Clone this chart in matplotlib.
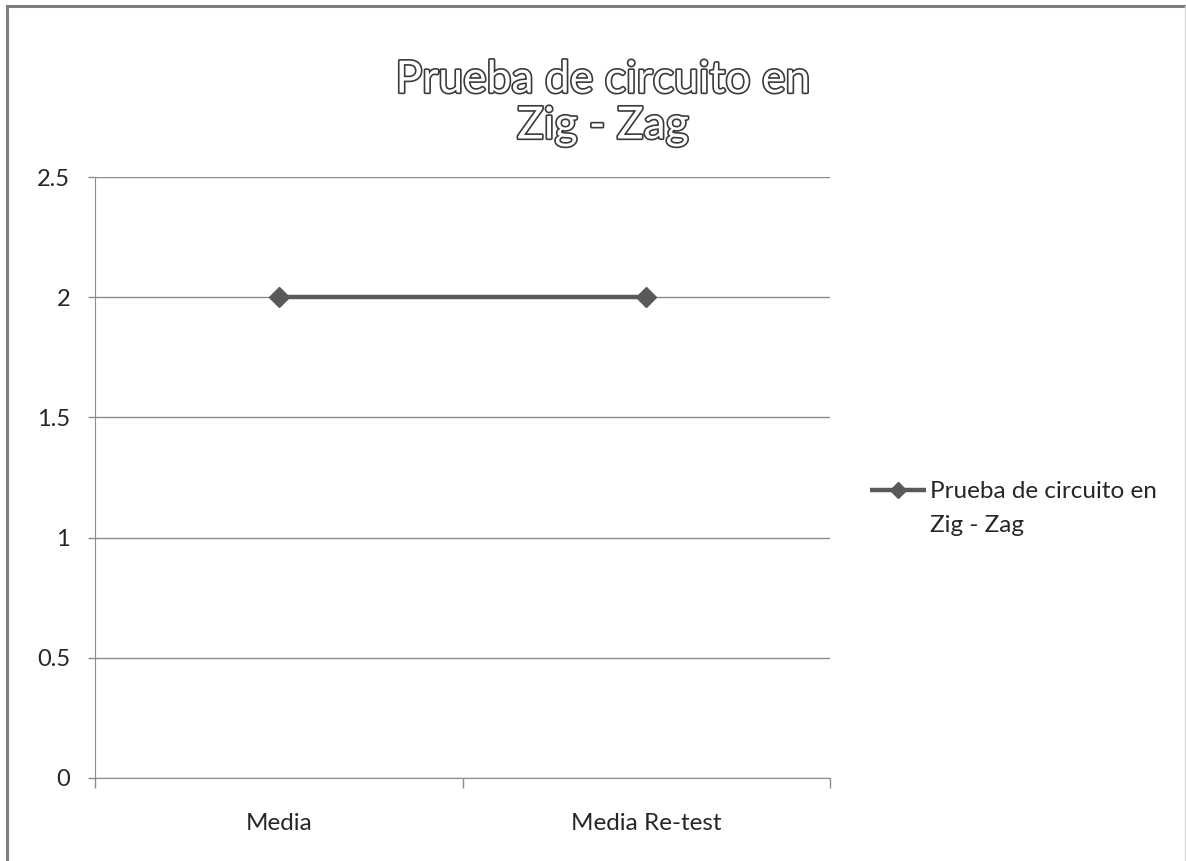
import matplotlib
matplotlib.use("Agg")
import matplotlib.pyplot as plt
import matplotlib.patheffects as pe

plt.rcParams['font.family'] = ['Lato', 'DejaVu Sans']

categories = ["Media", "Media Re-test"]
values = [2, 2]
series_name = "Prueba de circuito en\nZig - Zag"
title_text = "Prueba de circuito en\nZig - Zag"
y_ticks = [0, 0.5, 1, 1.5, 2, 2.5]
y_tick_labels = ["0", "0.5", "1", "1.5", "2", "2.5"]

LINE_COLOR = "#595959"
GRID_COLOR = "#8c8c8c"
TEXT_COLOR = "#262626"

W, H = 1186, 861
fig = plt.figure(figsize=(W / 100, H / 100), dpi=100)
fig.patch.set_facecolor("white")

# overlay axes in pixel units for the chart frame and the legend
frame_ax = fig.add_axes([0, 0, 1, 1])
frame_ax.set_xlim(0, W)
frame_ax.set_ylim(H, 0)
frame_ax.axis("off")
frame_ax.plot([6.5, 6.5], [H, 5.5], color="#7f7f7f", lw=2.2)
frame_ax.plot([6.5, W], [5.5, 5.5], color="#7f7f7f", lw=2.2)
frame_ax.plot([W - 1, W - 1], [5.5, H], color="#d9d9d9", lw=1)

# plot area in pixel coordinates
x0, x1 = 95, 830
ytop, ybot = 177, 778
ax = fig.add_axes([x0 / W, 1 - ybot / H, (x1 - x0) / W, (ybot - ytop) / H])
ax.set_facecolor("none")

xpos = list(range(len(categories)))
ax.plot(xpos, values, color=LINE_COLOR, lw=3.2, marker="D", markersize=10,
        markerfacecolor=LINE_COLOR, markeredgecolor=LINE_COLOR, zorder=3,
        solid_capstyle="butt")

ax.set_xlim(-0.5, len(categories) - 0.5)
ax.set_ylim(0, 2.5)
ax.set_yticks(y_ticks)
ax.set_yticklabels(y_tick_labels)
ax.grid(axis="y", color=GRID_COLOR, lw=1)
ax.set_axisbelow(True)

for side in ["top", "right"]:
    ax.spines[side].set_visible(False)
ax.spines["left"].set_color(GRID_COLOR)
ax.spines["bottom"].set_color(GRID_COLOR)

ax.tick_params(axis="y", length=5, width=1, color=GRID_COLOR, pad=13,
               labelsize=17, labelcolor=TEXT_COLOR)
ax.set_xticks([-0.5, 0.5, 1.5])
ax.set_xticklabels(["", "", ""])
ax.set_xticks(xpos, minor=True)
ax.set_xticklabels(categories, minor=True)
ax.tick_params(axis="x", which="major", length=7, width=1, color=GRID_COLOR,
               direction="out")
ax.tick_params(axis="x", which="minor", length=0, pad=25, labelsize=17.5,
               labelcolor=TEXT_COLOR)

# outlined title
fig.text(603 / W, 1 - 103 / H, title_text, ha="center", va="center",
         fontsize=32, color="white", linespacing=1.15,
         path_effects=[pe.withStroke(linewidth=2.4, foreground="#3a3a3a")])

# legend: line sample with diamond, label beside the first line
frame_ax.plot([870, 926], [490, 490], color=LINE_COLOR, lw=3.2,
              solid_capstyle="butt")
frame_ax.plot([898], [490], marker="D", markersize=8.5, color=LINE_COLOR)
frame_ax.text(930, 532, series_name, ha="left", va="baseline",
              fontsize=17.5, color=TEXT_COLOR, linespacing=1.75)

fig.savefig("out.png", dpi=100)
